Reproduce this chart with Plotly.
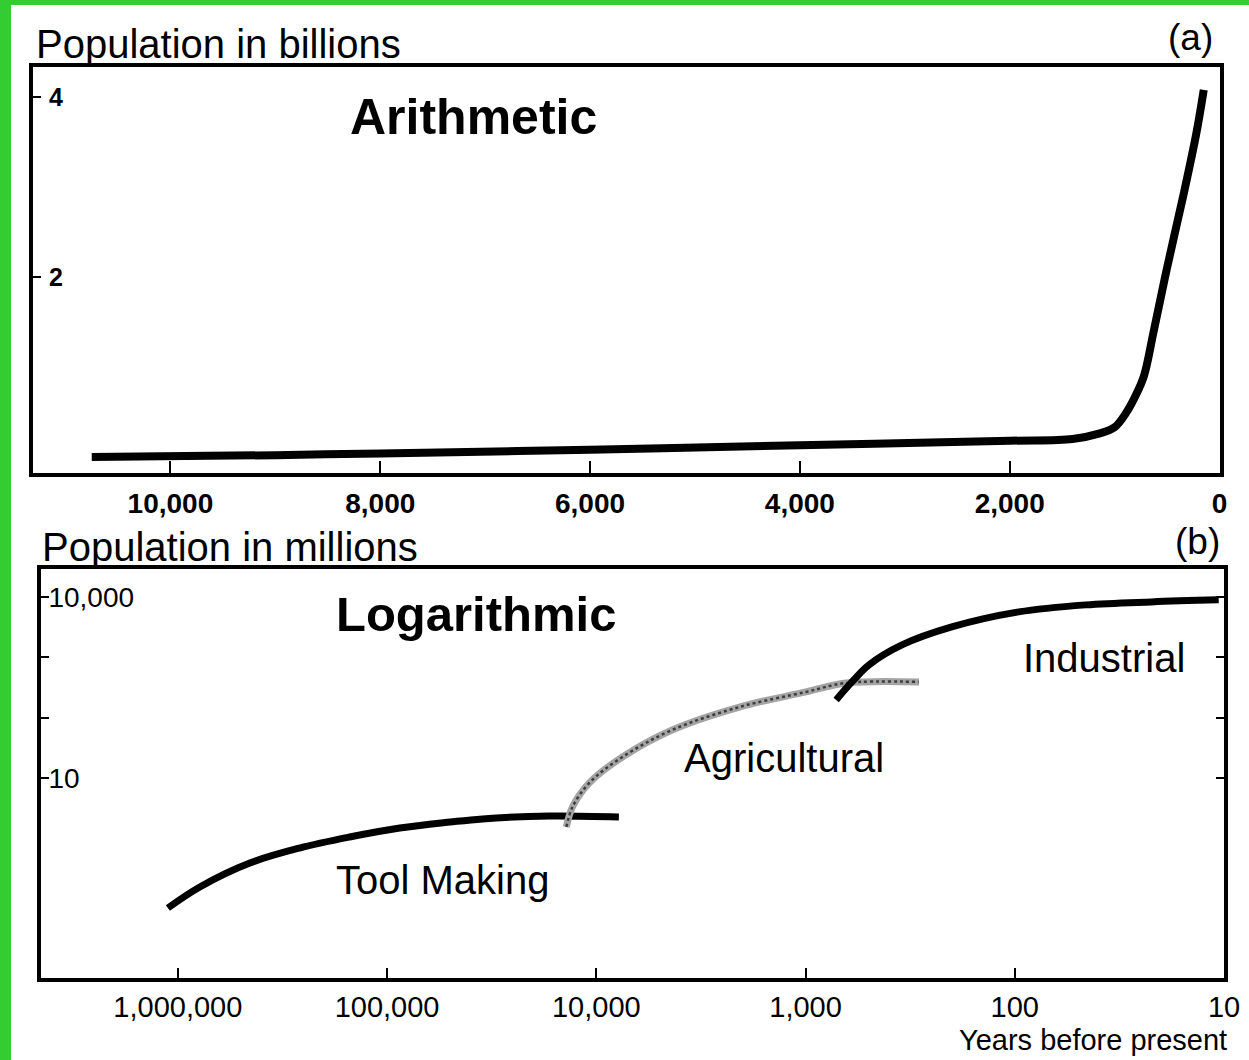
import plotly.graph_objects as go

# ---------------- data ----------------
# Panel (a): arithmetic scale, years before present vs population (billions)
years_a = [10750, 9000, 8000, 6000, 4000, 2000, 1400, 1150, 1000, 890, 800, 720, 630, 500, 340, 220, 150]
pop_a_billions = [0.0, 0.02, 0.04, 0.08, 0.13, 0.18, 0.20, 0.26, 0.33, 0.49, 0.68, 0.90, 1.38, 2.10, 2.93, 3.60, 4.08]

# Panel (b): logarithmic scale, years before present vs population (millions)
tool_years = [1116000, 785000, 453000, 262000, 151000, 87000, 50000, 35000, 16700, 7800]
tool_pop = [0.070, 0.156, 0.389, 0.69, 1.05, 1.48, 1.86, 2.10, 2.34, 2.25]
agri_years = [13900, 13000, 10800, 7500, 4340, 2070, 995, 641, 287]
agri_pop = [1.54, 3.3, 8.3, 22.3, 62.5, 150, 267, 376, 391]
ind_years = [714, 600, 498, 346, 200, 95.7, 45.8, 22.2, 10.6]
ind_pop = [197, 391, 748, 1607, 3190, 5660, 7400, 8300, 8960]

a_xticks = [10000, 8000, 6000, 4000, 2000, 0]
a_xticktext = ["10,000", "8,000", "6,000", "4,000", "2,000", "0"]
a_yticks = [2, 4]
b_xticks = [1000000, 100000, 10000, 1000, 100, 10]
b_xticktext = ["1,000,000", "100,000", "10,000", "1,000", "100", "10"]
b_yticks = [10, 100, 1000, 10000]
b_yticktext = ["10", "", "", "10,000"]

W, H = 1249, 1060
FONT = "Liberation Sans, Arial, Helvetica, sans-serif"

def px(x):
    return x / W

def py(y):
    return 1 - y / H

fig = go.Figure()

fig.add_trace(go.Scatter(x=years_a, y=pop_a_billions, mode="lines",
                         line=dict(color="black", width=8, shape="spline"),
                         xaxis="x", yaxis="y", showlegend=False, hoverinfo="skip"))

fig.add_trace(go.Scatter(x=tool_years, y=tool_pop, mode="lines",
                         line=dict(color="black", width=7, shape="spline"),
                         xaxis="x2", yaxis="y2", showlegend=False))
fig.add_trace(go.Scatter(x=agri_years, y=agri_pop, mode="lines",
                         line=dict(color="#a4a4a4", width=7, shape="spline"),
                         xaxis="x2", yaxis="y2", showlegend=False))
fig.add_trace(go.Scatter(x=agri_years, y=agri_pop, mode="lines",
                         line=dict(color="#3c3c3c", width=2.5, dash="dot", shape="spline"),
                         xaxis="x2", yaxis="y2", showlegend=False))
fig.add_trace(go.Scatter(x=ind_years, y=ind_pop, mode="lines",
                         line=dict(color="black", width=7, shape="spline"),
                         xaxis="x2", yaxis="y2", showlegend=False))

axis_common = dict(showgrid=False, zeroline=False, showline=True, linecolor="black",
                   linewidth=4, ticks="inside", tickcolor="black", tickwidth=2,
                   automargin=False)

fig.update_layout(
    width=W, height=H, autosize=False,
    margin=dict(l=0, r=0, t=0, b=0, pad=0),
    paper_bgcolor="#33cc33",
    plot_bgcolor="white",
    font=dict(family=FONT, color="black"),
    xaxis=dict(**axis_common, domain=[px(33), px(1220)], anchor="y",
               range=[11310, -5], mirror=True, ticklen=12,
               tickvals=a_xticks, ticktext=a_xticktext,
               tickfont=dict(size=28, weight="bold", family=FONT, color="black"),
               ticklabelstandoff=2),
    yaxis=dict(**axis_common, domain=[py(473), py(67)], anchor="x",
               range=[-0.178, 4.333], mirror=True, ticklen=8,
               tickvals=a_yticks, ticklabelposition="inside", ticklabelstandoff=10,
               tickfont=dict(size=25, weight="bold", family=FONT, color="black")),
    xaxis2=dict(**axis_common, domain=[px(41), px(1224)], anchor="y2",
                type="log", range=[6.654, 1.0], mirror=True, ticklen=10,
                tickvals=b_xticks, ticktext=b_xticktext,
                tickfont=dict(size=29, family=FONT, color="black"), ticklabelstandoff=0),
    yaxis2=dict(**axis_common, domain=[py(978), py(569)], anchor="x2",
                type="log", range=[-2.315, 4.464], mirror="ticks", ticklen=8,
                tickvals=b_yticks, ticktext=b_yticktext, ticklabelposition="inside",
                ticklabelstandoff=2,
                tickfont=dict(size=28, family=FONT, color="black")),
    shapes=[dict(type="rect", xref="paper", yref="paper", x0=px(11), x1=1,
                 y0=0, y1=py(5), fillcolor="white", line=dict(width=0), layer="below")],
)

def label(text, x, y, size, bold=False, xanchor="left"):
    fig.add_annotation(text=text, x=px(x), y=py(y), xref="paper", yref="paper",
                       xanchor=xanchor, yanchor="middle", showarrow=False,
                       font=dict(size=size, family=FONT, color="black",
                                 weight="bold" if bold else "normal"))

label("Population in billions", 34, 44, 40)
label("(a)", 1190, 37, 37, xanchor="center")
label("Arithmetic", 348, 117, 50, bold=True)
label("Population in millions", 40, 547, 40)
label("(b)", 1197, 541, 37, xanchor="center")
label("Logarithmic", 334, 614, 49, bold=True)
label("Industrial", 1021, 658, 40)
label("Agricultural", 682, 758, 40)
label("Tool Making", 334, 880, 40)
label("Years before present", 957, 1040, 29)

fig.write_html("out.html",
               config={"displayModeBar": False, "responsive": False},
               post_script="document.body.style.margin='0px';document.body.style.padding='0px';document.documentElement.style.overflow='hidden';document.body.style.overflow='hidden';")
